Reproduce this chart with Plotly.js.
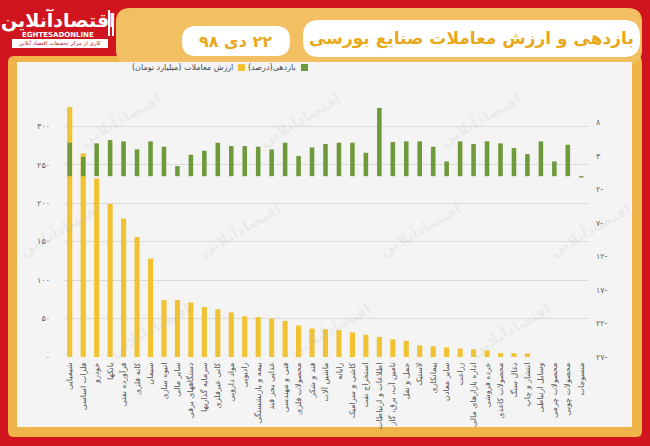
<!DOCTYPE html>
<html>
<head>
<meta charset="utf-8">
<script src="https://cdn.plot.ly/plotly-3.0.1.min.js"></script>
<style>html,body{margin:0;padding:0;background:#d0151f;}#chart{width:650px;height:446px;}</style>
</head>
<body>
<div id="chart"></div>
<script>
// ---------- data ----------
const categories = [
  "شیمیایی","فلزات اساسی","خودرو","بانکها","فرآورده نفتی","کانه فلزی","سیمان","انبوه سازی",
  "سایر مالی","دستگاههای برقی","سرمایه گذاریها","کانی غیرفلزی","مواد دارویی","رادیویی",
  "بیمه و بازنشستگی","غذایی بجز قند","فنی و مهندسی","محصولات فلزی","قند و شکر","ماشین آلات",
  "رایانه","کاشی و سرامیک","استخراج نفت","اطلاعات و ارتباطات","تامین آب، برق، گاز","حمل و نقل",
  "لاستیک","پیمانکاری","سایر معادن","زراعت","اداره بازارهای مالی","خرده فروشی","محصولات کاغذی",
  "ذغال سنگ","انتشار و چاپ","وسایل ارتباطی","محصولات چرمی","محصولات چوبی","منسوجات"
];
const tradeValue = [325,265,232,199,180,156,128,74,74,71,65,62,58,53,52,50,47,41,37,36,35,32,29,26,23,
  21,15,14,12.5,11,10,8.5,5,5,4.5,0,0,0,0];
const returnPct = [5.0,2.9,4.9,5.4,5.2,4.0,5.2,4.4,1.5,3.2,3.8,5.0,4.5,4.5,4.4,4.0,5.0,3.0,4.3,4.8,
  5.0,5.0,3.5,10.2,5.1,5.2,5.2,4.4,2.2,5.2,4.8,5.2,4.9,4.2,3.3,5.2,2.2,4.7,-0.2];
const leftTickVals = [0,50,100,150,200,250,300];
const leftTickText = ["۰","۵۰","۱۰۰","۱۵۰","۲۰۰","۲۵۰","۳۰۰"];
const rightTickVals = [8,3,-2,-7,-12,-17,-22,-27];
const rightTickText = ["۸","۳","۲-","۷-","۱۲-","۱۷-","۲۲-","۲۷-"];
const seriesNames = ["ارزش معاملات (میلیارد تومان)","بازدهی(درصد)"];
const titleText = "بازدهی و ارزش معاملات صنایع بورسی";
const dateText = "۲۲ دی ۹۸";
const brandText = "اقتصادآنلاین";

// ---------- geometry helpers ----------
const W = 650, H = 446, ML = 63, MR = 62, MT = 103, MB = 89;
const PW = W - ML - MR, PH = H - MT - MB;
const px = x => (x - ML) / PW;
const py = y => (H - MB - y) / PH;
function rrect(x0, y0, x1, y1, r, fill) {
  const rx = r / PW, ry = r / PH;
  const a = px(x0), b = px(x1), t = py(y0), u = py(y1);
  const d = `M${a+rx},${t} L${b-rx},${t} Q${b},${t} ${b},${t-ry} L${b},${u+ry} Q${b},${u} ${b-rx},${u} ` +
            `L${a+rx},${u} Q${a},${u} ${a},${u+ry} L${a},${t-ry} Q${a},${t} ${a+rx},${t} Z`;
  return {type:'path', xref:'paper', yref:'paper', path:d, fillcolor:fill, line:{width:0}, layer:'below'};
}
function rect(x0, y0, x1, y1, fill) {
  return {type:'rect', xref:'paper', yref:'paper', x0:px(x0), x1:px(x1), y0:py(y1), y1:py(y0),
          fillcolor:fill, line:{width:0}, layer:'below'};
}
const RLM = "\u200F";
const FONT = "DejaVu Sans, sans-serif";

const shapes = [
  rrect(8, 56, 642, 437, 6, '#efb54b'),
  rrect(116, 8, 642, 64, 14, '#f2c062'),
  rect(17, 62, 632, 427, '#f4f4f4'),
  rrect(303, 20, 640, 57, 16, '#ffffff'),
  rrect(182, 26, 290, 56, 14, '#ffffff'),
  rect(12, 39, 108, 48, '#ffffff'),
  rect(108, 10, 110, 36, '#ffffff'),
  rect(112, 14, 114, 36, '#ffffff'),
  // legend swatches
  rect(301, 64, 308, 71, '#6f9a3c'),
  rect(238, 64, 245, 71, '#f1c232')
];

const watermark = [];
[[120,120],[300,120],[480,120],[60,230],[240,230],[420,230],[590,230],[150,330],[330,330],[510,330]].forEach(p => {
  watermark.push({text: brandText, x: px(p[0]), y: py(p[1]), textangle:-30,
    font:{family:FONT, size:15, color:'rgba(180,180,180,0.18)', weight:'bold'}});
});

const annotations = watermark.concat([
  {text: RLM + titleText + RLM, x: px(471), y: py(38.5), font:{family:FONT, size:17, color:'#e9a81c', weight:'bold'}},
  {text: RLM + dateText + RLM, x: px(236), y: py(41), font:{family:FONT, size:16, color:'#e9a81c', weight:'bold'}},
  {text: brandText, x: px(58), y: py(20), font:{family:FONT, size:19, color:'#ffffff', weight:'bold'}},
  {text: "EGHTESADONLINE", x: px(58), y: py(35), font:{family:FONT, size:7, color:'#ffffff', weight:'bold'}},
  {text: "کاری از مرکز تحقیقات اقتصاد آنلاین", x: px(60), y: py(43.5), font:{family:FONT, size:5.5, color:'#c4161c'}},
  {text: RLM + seriesNames[1] + RLM, x: px(298), y: py(67.5), xanchor:'right', font:{family:FONT, size:8, color:'#444'}},
  {text: RLM + seriesNames[0] + RLM, x: px(235), y: py(67.5), xanchor:'right', font:{family:FONT, size:8, color:'#444'}}
]).map(a => Object.assign({xref:'paper', yref:'paper', showarrow:false, xanchor:'center', yanchor:'middle'}, a));

const traces = [
  {type:'bar', name:seriesNames[0], x:categories, y:tradeValue, yaxis:'y', width:0.38,
   marker:{color:'#f1c232'}, hoverinfo:'skip'},
  {type:'bar', name:seriesNames[1], x:categories, y:returnPct, yaxis:'y2', width:0.34,
   marker:{color:'#6f9a3c'}, hoverinfo:'skip'}
];

const layout = {
  width: W, height: H,
  margin: {l: ML, r: MR, t: MT, b: MB, pad: 0},
  paper_bgcolor: '#d0151f',
  plot_bgcolor: 'rgba(0,0,0,0)',
  showlegend: false,
  barmode: 'overlay',
  font: {family: FONT},
  xaxis: {type:'category', range:[-0.5, 38.5], tickangle:-90, showgrid:false, zeroline:false, showline:false,
          ticks:'', tickfont:{family:FONT, size:8, color:'#555'}, ticklabelstandoff:3, fixedrange:true},
  yaxis: {range:[0, 330.3], tickvals:leftTickVals, ticktext:leftTickText, showgrid:true, gridcolor:'#dadada',
          gridwidth:1, zeroline:false, showline:false, ticks:'', tickfont:{family:FONT, size:8, color:'#666'},
          ticklabelstandoff:12},
  yaxis2: {range:[-27, 10.93], overlaying:'y', side:'right', tickvals:rightTickVals, ticktext:rightTickText,
           showgrid:false, zeroline:false, showline:false, ticks:'', tickfont:{family:FONT, size:8, color:'#666'},
           ticklabelstandoff:7},
  shapes: shapes,
  annotations: annotations
};

Plotly.newPlot('chart', traces, layout, {displayModeBar:false, staticPlot:true});
</script>
</body>
</html>
